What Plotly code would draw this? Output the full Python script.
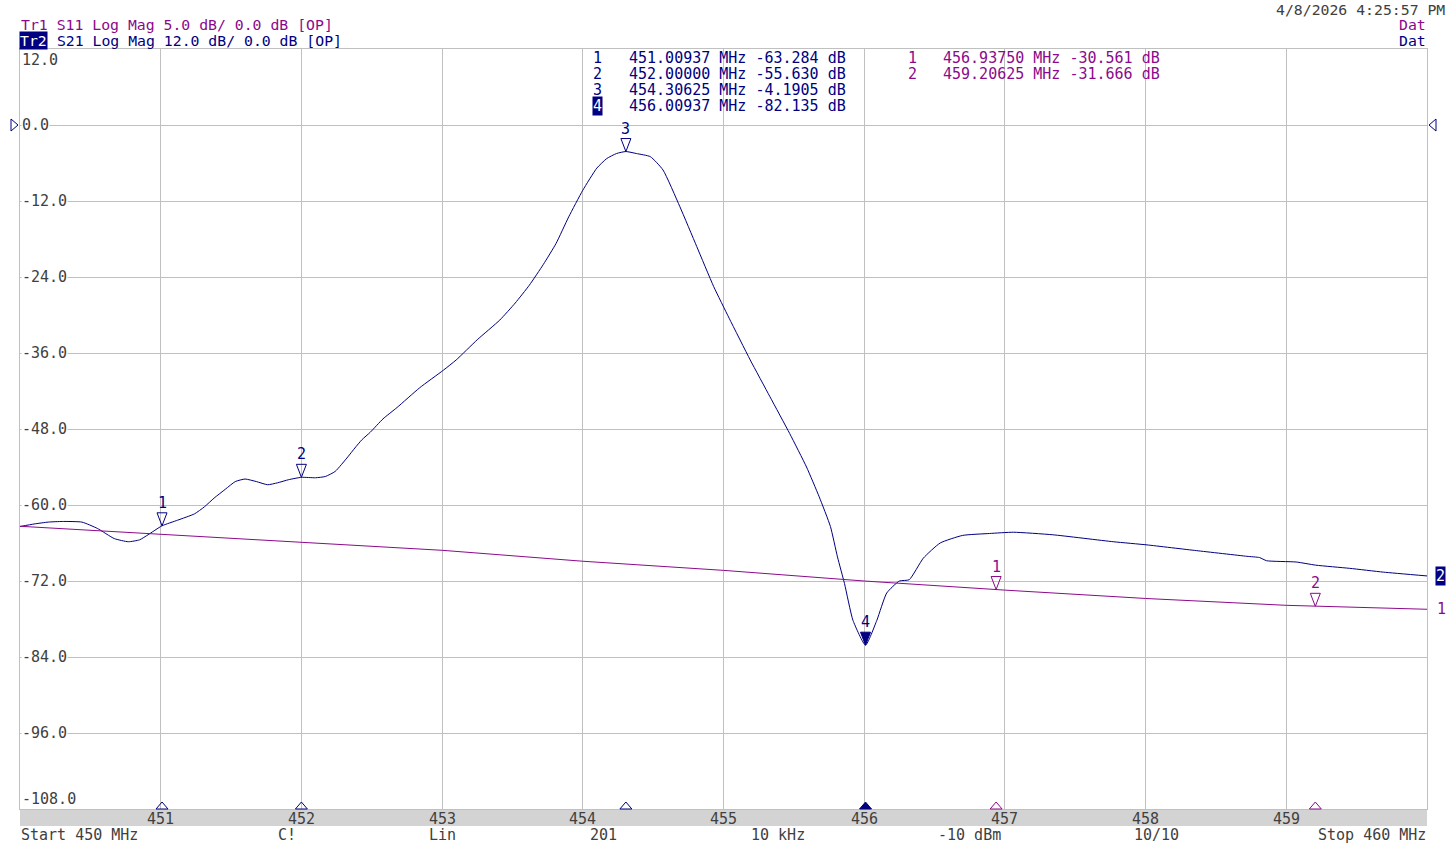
import plotly.graph_objects as go

s21_freq = [450.00, 450.10, 450.20, 450.30, 450.44, 450.55, 450.67, 450.77, 450.85, 450.91,
            451.00937, 451.12, 451.24, 451.31, 451.38, 451.46, 451.53, 451.60, 451.68, 451.76,
            451.83, 451.91, 452.00, 452.10, 452.17, 452.24, 452.33, 452.38, 452.43, 452.49,
            452.58, 452.68, 452.84, 453.01, 453.10, 453.25, 453.41, 453.52, 453.62, 453.72,
            453.81, 453.90, 454.00, 454.10, 454.17, 454.24, 454.30625, 454.38, 454.48, 454.57,
            454.69, 454.81, 454.93, 455.04, 455.19, 455.33, 455.47, 455.59, 455.68, 455.76,
            455.81, 455.86, 455.92, 456.00937, 456.09, 456.16, 456.25, 456.32, 456.42, 456.54,
            456.70, 456.89, 457.06, 457.34, 457.77, 458.01, 458.36, 458.72, 458.81, 458.86,
            459.07, 459.21, 459.45, 459.69, 460.00]
s21_db = [-63.4, -63.0, -62.7, -62.6, -62.7, -63.7, -65.3, -65.8, -65.5, -64.7,
          -63.284, -62.4, -61.4, -60.3, -58.9, -57.5, -56.3, -55.9, -56.3, -56.8,
          -56.5, -56.0, -55.630, -55.7, -55.5, -54.7, -52.4, -51.0, -49.7, -48.5,
          -46.4, -44.6, -41.5, -38.7, -37.1, -33.9, -30.8, -28.1, -25.3, -22.0,
          -18.7, -14.5, -10.3, -6.8, -5.3, -4.5, -4.1905, -4.5, -5.0, -7.1,
          -12.9, -19.2, -25.5, -30.5, -37.1, -42.9, -48.7, -54.0, -58.7, -63.4,
          -68.2, -72.4, -78.2, -82.135, -78.2, -73.9, -72.0, -71.8, -68.4, -66.0,
          -64.8, -64.5, -64.3, -64.7, -65.8, -66.3, -67.2, -68.1, -68.3, -68.8,
          -69.0, -69.5, -70.0, -70.6, -71.2]

# S11 (Tr1) trace
s11_freq = [450, 451, 452, 453, 454, 455, 456, 457, 458, 459, 460]
s11_db = [-26.4, -26.93, -27.46, -27.98, -28.7, -29.3, -30.0, -30.6, -31.15, -31.6, -31.86]

# markers
tr2_mk_freq = [451.00937, 452.00000, 454.30625, 456.00937]
tr2_mk_db = [-63.284, -55.630, -4.1905, -82.135]
tr1_mk_freq = [456.93750, 459.20625]
tr1_mk_db = [-30.561, -31.666]
active_marker = 4

x_ticks = [451, 452, 453, 454, 455, 456, 457, 458, 459]
y_ticks = [12, 0, -12, -24, -36, -48, -60, -72, -84, -96, -108]
footer = [("Start 450 MHz", 19, "left"), ("C!", 276, "left"), ("Lin", 427, "left"),
          ("201", 588, "left"), ("10 kHz", 749, "left"), ("-10 dBm", 936, "left"),
          ("10/10", 1132, "left"), ("Stop 460 MHz", 1428, "right")]

NAVY = "#000080"
PURPLE = "#8B0A8B"
GRAY = "#404040"
GRID = "#c0c0c0"
MONO = "DejaVu Sans Mono"

W, H = 1447, 844
L, R, T, B = 20, 20, 49, 35
PW, PH = W - L - R, H - T - B


def px(x):
    return (x - L) / PW


def py(y):
    return (H - B - y) / PH


def fmt_db(v):
    dec = 5 - len(str(int(abs(v))))
    return f"{v:.{dec}f}"


fig = go.Figure()
fig.add_trace(go.Scatter(x=s11_freq, y=s11_db, mode="lines", yaxis="y2",
                         line=dict(color=PURPLE, width=1), hoverinfo="skip"))
fig.add_trace(go.Scatter(x=s21_freq, y=s21_db, mode="lines",
                         line=dict(color=NAVY, width=1, shape="spline", smoothing=0.5),
                         hoverinfo="skip"))

shapes = []
ann = []

# bottom grey band
shapes.append(dict(type="rect", xref="paper", yref="paper", x0=0, x1=1, y0=-17 / PH, y1=0,
                   fillcolor="#d3d3d3", line=dict(width=0), layer="below"))


def marker(f, v, yref, color, num, filled):
    shapes.append(dict(type="path", xref="x", yref=yref, xsizemode="pixel", ysizemode="pixel",
                       xanchor=f, yanchor=v, path="M -5,13 L 5,13 L 0,0 Z",
                       line=dict(color=color, width=1),
                       fillcolor=color if filled else "rgba(0,0,0,0)"))
    shapes.append(dict(type="path", xref="x", yref="paper", xsizemode="pixel", ysizemode="pixel",
                       xanchor=f, yanchor=0, path="M -6,0 L 6,0 L 0,7 Z",
                       line=dict(color=color, width=1),
                       fillcolor=color if filled else "rgba(0,0,0,0)"))
    ann.append(dict(x=f, y=v, xref="x", yref=yref, text=str(num), showarrow=False,
                    yshift=23, font=dict(color=color, size=15, family=MONO)))


for i, (f, v) in enumerate(zip(tr2_mk_freq, tr2_mk_db), start=1):
    marker(f, v, "y", NAVY, i, i == active_marker)
for i, (f, v) in enumerate(zip(tr1_mk_freq, tr1_mk_db), start=1):
    marker(f, v, "y2", PURPLE, i, False)

# reference position triangles
shapes.append(dict(type="path", xref="paper", yref="y", xsizemode="pixel", ysizemode="pixel",
                   xanchor=0, yanchor=0, path="M -9,6 L -9,-6 L -2,0 Z",
                   line=dict(color=NAVY, width=1)))
shapes.append(dict(type="path", xref="paper", yref="y", xsizemode="pixel", ysizemode="pixel",
                   xanchor=1, yanchor=0, path="M 9,6 L 9,-6 L 2,0 Z",
                   line=dict(color=NAVY, width=1)))

# y tick labels inside the grid
for t in y_ticks:
    anchor = "top" if t == y_ticks[0] else ("bottom" if t == y_ticks[-1] else "middle")
    ann.append(dict(x=0, y=t, xref="paper", yref="y", xanchor="left", yanchor=anchor,
                    text=f"{t:.1f}", showarrow=False, bgcolor="white", borderpad=0,
                    xshift=1, yshift=-1 if anchor == "top" else 0,
                    font=dict(color=GRAY, size=15, family=MONO)))

# x tick labels in the band
for t in x_ticks:
    ann.append(dict(x=t, y=0, xref="x", yref="paper", yanchor="top", text=str(t),
                    showarrow=False, yshift=1, font=dict(color=GRAY, size=15, family=MONO)))

# footer
for txt, xp, al in footer:
    ann.append(dict(x=px(xp), y=py(835), xref="paper", yref="paper", xanchor=al,
                    yanchor="middle", text=txt, showarrow=False,
                    font=dict(color=GRAY, size=15, family=MONO)))

# header
HF = 14.8
ann.append(dict(x=px(19), y=py(25), xref="paper", yref="paper", xanchor="left", yanchor="middle",
                text="Tr1 S11 Log Mag 5.0 dB/ 0.0 dB [OP]", showarrow=False,
                font=dict(color=PURPLE, size=HF, family=MONO)))
ann.append(dict(x=px(19), y=py(41), xref="paper", yref="paper", xanchor="left", yanchor="middle",
                text="Tr2", showarrow=False, bgcolor=NAVY, borderpad=0,
                font=dict(color="white", size=HF, family=MONO)))
ann.append(dict(x=px(46), y=py(41), xref="paper", yref="paper", xanchor="left", yanchor="middle",
                text=" S21 Log Mag 12.0 dB/ 0.0 dB [OP]", showarrow=False,
                font=dict(color=NAVY, size=HF, family=MONO)))
ann.append(dict(x=px(1446), y=py(0), xref="paper", yref="paper", xanchor="right", yanchor="top",
                text="4/8/2026 4:25:57 PM", showarrow=False, borderpad=0,
                font=dict(color=GRAY, size=HF, family=MONO)))
ann.append(dict(x=px(1428), y=py(25), xref="paper", yref="paper", xanchor="right", yanchor="middle",
                text="Dat", showarrow=False, font=dict(color=PURPLE, size=HF, family=MONO)))
ann.append(dict(x=px(1428), y=py(41), xref="paper", yref="paper", xanchor="right", yanchor="middle",
                text="Dat", showarrow=False, font=dict(color=NAVY, size=HF, family=MONO)))

# marker tables
for i, (f, v) in enumerate(zip(tr2_mk_freq, tr2_mk_db), start=1):
    yy = py(58 + 16 * (i - 1))
    act = i == active_marker
    ann.append(dict(x=px(592), y=yy, xref="paper", yref="paper", xanchor="left", yanchor="middle",
                    text=str(i), showarrow=False, bgcolor=NAVY if act else None, borderpad=0,
                    font=dict(color="white" if act else NAVY, size=15, family=MONO)))
    ann.append(dict(x=px(627), y=yy, xref="paper", yref="paper", xanchor="left", yanchor="middle",
                    text=f"{f:.5f} MHz {fmt_db(v)} dB", showarrow=False,
                    font=dict(color=NAVY, size=15, family=MONO)))
for i, (f, v) in enumerate(zip(tr1_mk_freq, tr1_mk_db), start=1):
    yy = py(58 + 16 * (i - 1))
    ann.append(dict(x=px(906), y=yy, xref="paper", yref="paper", xanchor="left", yanchor="middle",
                    text=str(i), showarrow=False, font=dict(color=PURPLE, size=15, family=MONO)))
    ann.append(dict(x=px(941), y=yy, xref="paper", yref="paper", xanchor="left", yanchor="middle",
                    text=f"{f:.5f} MHz {fmt_db(v)} dB", showarrow=False,
                    font=dict(color=PURPLE, size=15, family=MONO)))

# trace end labels on the right
ann.append(dict(x=1, y=s21_db[-1], xref="paper", yref="y", xanchor="left", text="2",
                showarrow=False, xshift=8, bgcolor=NAVY, borderpad=0,
                font=dict(color="white", size=15, family=MONO)))
ann.append(dict(x=1, y=s11_db[-1], xref="paper", yref="y2", xanchor="left", text="1",
                showarrow=False, xshift=8, font=dict(color=PURPLE, size=15, family=MONO)))

fig.update_layout(
    width=W, height=H,
    margin=dict(l=L, r=R, t=T, b=B),
    paper_bgcolor="white", plot_bgcolor="white",
    showlegend=False,
    xaxis=dict(range=[450, 460], tick0=450, dtick=1, showgrid=True, gridcolor=GRID,
               showticklabels=False, ticks="", zeroline=False,
               showline=True, mirror=True, linecolor=GRID, linewidth=1),
    yaxis=dict(range=[-108, 12], tick0=0, dtick=12, showgrid=True, gridcolor=GRID,
               showticklabels=False, ticks="", zeroline=False,
               showline=True, mirror=True, linecolor=GRID, linewidth=1),
    yaxis2=dict(range=[-45, 5], overlaying="y", visible=False),
    shapes=shapes,
    annotations=ann,
    font=dict(family=MONO),
)

fig.write_html("out.html", config={"displayModeBar": False},
               post_script="document.body.style.margin='0';document.body.style.overflow='hidden';")
